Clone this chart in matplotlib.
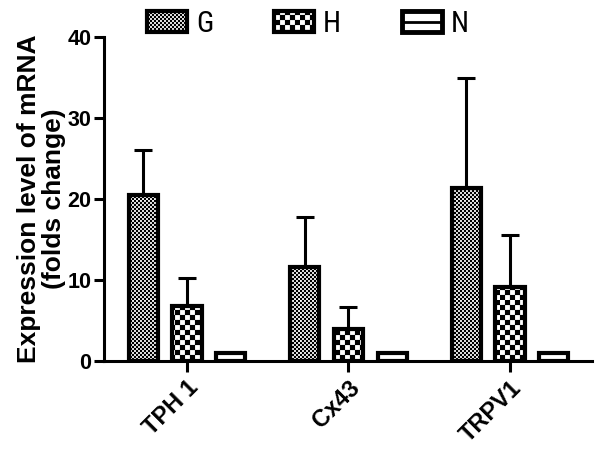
import numpy as np
import matplotlib
matplotlib.use("Agg")
import matplotlib.pyplot as plt
import matplotlib.hatch as mhatch
from matplotlib.path import Path
from matplotlib.patches import Rectangle
from matplotlib.lines import Line2D

# ---------------- data ----------------
categories = ["TPH 1", "Cx43", "TRPV1"]
series_names = ["G", "H", "N"]
G_values = [20.5, 11.6, 21.4]
G_err = [5.5, 6.2, 13.6]
H_values = [6.8, 4.0, 9.1]
H_err = [3.5, 2.7, 6.5]
N_values = [1.0, 1.0, 1.0]
y_ticks = [0, 10, 20, 30, 40]


# ---------------- checkerboard hatch patterns ----------------
class _Checker(mhatch.HatchPatternBase):
    char = "*"
    cells = 50

    def __init__(self, hatch, density):
        self.on = hatch is not None and self.char in hatch
        n = self.cells
        self.num_vertices = (n * n // 2) * 5 if self.on else 0

    def set_vertices_and_codes(self, vertices, codes):
        n = self.cells
        s = 1.0 / n
        sq = np.array([[0, 0], [s, 0], [s, s], [0, s], [0, 0]], float)
        ii, jj = np.meshgrid(np.arange(n), np.arange(n), indexing="ij")
        mask = (ii + jj) % 2 == 0
        origins = np.stack([ii[mask] * s, jj[mask] * s], axis=1)
        verts = (origins[:, None, :] + sq[None, :, :]).reshape(-1, 2)
        vertices[:] = verts
        codes[:] = np.tile([Path.MOVETO, Path.LINETO, Path.LINETO,
                            Path.LINETO, Path.CLOSEPOLY], len(origins))


class FineChecker(_Checker):
    char = "*"
    cells = 50


class CoarseChecker(_Checker):
    char = "."
    cells = 20


mhatch._hatch_types[:] = [mhatch.HorizontalHatch, mhatch.VerticalHatch,
                          mhatch.NorthEastHatch, mhatch.SouthEastHatch,
                          FineChecker, CoarseChecker]

plt.rcParams["hatch.linewidth"] = 0.1
plt.rcParams["hatch.color"] = "black"
plt.rcParams["font.family"] = ["Liberation Sans", "DejaVu Sans"]

# ---------------- figure ----------------
fig = plt.figure(figsize=(6, 4.5), dpi=100)
ax = fig.add_axes([104 / 600, 1 - 361 / 450, 488 / 600, 324 / 450])

x = np.arange(len(categories))
off = 0.272
w = 0.18
zeros = np.zeros(len(categories))
ekw = dict(elinewidth=2.2, capsize=6.5, capthick=2.2, ecolor="black")

bG = ax.bar(x - off, G_values, w, yerr=[zeros, G_err], facecolor="white",
            edgecolor="black", linewidth=3, hatch="*", error_kw=ekw, zorder=3)
bH = ax.bar(x, H_values, w, yerr=[zeros, H_err], facecolor="white",
            edgecolor="black", linewidth=3, hatch=".", error_kw=ekw, zorder=3)
bN = ax.bar(x + off, N_values, w, facecolor="white", edgecolor="black",
            linewidth=3, zorder=3)

ax.set_xlim(-0.514, 2.508)
ax.set_ylim(0, 40)
ax.set_yticks(y_ticks)
ax.set_yticklabels([str(t) for t in y_ticks], fontsize=15.5, fontweight="bold")
ax.set_xticks(x)
ax.set_xticklabels(categories, rotation=45, ha="right", rotation_mode="anchor",
                   fontsize=17, fontweight="bold")

for s in ["top", "right"]:
    ax.spines[s].set_visible(False)
for s in ["left", "bottom"]:
    ax.spines[s].set_linewidth(2.2)

ax.tick_params(axis="y", length=7, width=2.2, pad=2)
ax.tick_params(axis="x", length=8, width=2.2, pad=3)

ax.set_ylabel("Expression level of mRNA\n(folds change)", fontsize=19,
              fontweight="bold", labelpad=1, linespacing=1.08)

# legend
n_rect = Rectangle((0, 0), 1, 1, facecolor="white", edgecolor="black", linewidth=3.5)
n_line = Line2D([], [], color="black", linewidth=2)
fig.legend(handles=[bG, bH, (n_rect, n_line)], labels=series_names,
           loc="center", bbox_to_anchor=(308 / 600, 1 - 24 / 450), ncol=3,
           frameon=False, handlelength=1.37, handleheight=0.72,
           handletextpad=0.3, columnspacing=2.1, borderpad=0,
           prop=dict(family=["Liberation Sans Narrow", "Roboto Condensed",
                             "Liberation Sans"], size=21))

fig.savefig("out.png", dpi=100)
